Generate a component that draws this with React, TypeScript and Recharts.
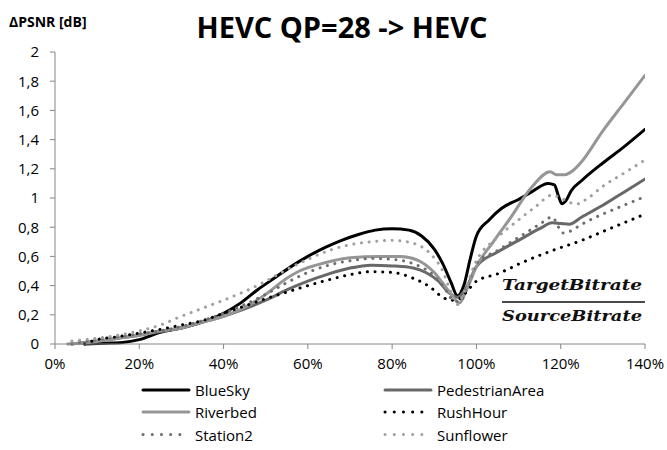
import React from 'react';
import { LineChart, Line, XAxis, YAxis, Legend } from 'recharts';

const xTicks = [0, 20, 40, 60, 80, 100, 120, 140];
const yTicks = [0, 0.2, 0.4, 0.6, 0.8, 1, 1.2, 1.4, 1.6, 1.8, 2];

const blueSkyX = [7, 12, 16, 20, 25, 30, 35, 40, 44, 48, 52, 56, 60, 64, 68, 72, 76, 80, 84, 87, 90, 92, 94, 95.5, 97, 98.5, 100, 103, 106, 110, 113, 117, 118.5, 119.5, 120.3, 121.2, 122.5, 125, 130, 135, 140];
const blueSkyY = [0, 0.005, 0.01, 0.03, 0.08, 0.11, 0.15, 0.21, 0.28, 0.37, 0.45, 0.53, 0.6, 0.66, 0.71, 0.75, 0.78, 0.79, 0.78, 0.74, 0.65, 0.55, 0.42, 0.33, 0.4, 0.58, 0.74, 0.85, 0.93, 0.99, 1.04, 1.1, 1.09, 1.01, 0.96, 0.98, 1.05, 1.12, 1.24, 1.35, 1.47];

const pedestrianX = [4, 10, 15, 20, 25, 30, 35, 40, 45, 50, 55, 60, 65, 70, 75, 80, 85, 88, 91, 93.5, 95.5, 97.5, 100, 105, 110, 115, 118, 120, 122, 125, 130, 135, 140];
const pedestrianY = [0, 0.02, 0.04, 0.06, 0.085, 0.11, 0.15, 0.19, 0.24, 0.3, 0.37, 0.43, 0.48, 0.52, 0.54, 0.535, 0.52, 0.49, 0.43, 0.35, 0.32, 0.38, 0.53, 0.63, 0.71, 0.79, 0.83, 0.825, 0.82, 0.87, 0.95, 1.04, 1.13];

const riverbedX = [3, 8, 15, 20, 25, 30, 35, 40, 45, 50, 55, 58, 62, 66, 70, 77, 82, 86, 90, 93.5, 96, 97.5, 100, 104, 108, 113, 117.5, 119, 121, 123, 125, 130, 135, 140];
const riverbedY = [0, 0.01, 0.04, 0.06, 0.09, 0.11, 0.15, 0.19, 0.25, 0.34, 0.45, 0.5, 0.54, 0.57, 0.59, 0.6, 0.6, 0.575, 0.49, 0.36, 0.28, 0.36, 0.53, 0.7, 0.86, 1.07, 1.18, 1.16, 1.16, 1.19, 1.25, 1.46, 1.65, 1.84];

const rushHourX = [7, 10, 15, 20, 25, 30, 35, 40, 45, 50, 55, 60, 65, 70, 75, 80, 85, 89, 92, 94, 96, 98, 100, 105, 111, 118, 125, 130, 135, 140];
const rushHourY = [0, 0.03, 0.05, 0.075, 0.1, 0.13, 0.16, 0.21, 0.26, 0.31, 0.355, 0.4, 0.44, 0.475, 0.495, 0.49, 0.45, 0.39, 0.32, 0.3, 0.31, 0.37, 0.43, 0.48, 0.56, 0.64, 0.71, 0.77, 0.83, 0.89];

const station2X = [4, 10, 15, 20, 25, 30, 35, 40, 45, 50, 55, 60, 65, 70, 75, 80, 85, 89, 92, 94.5, 96, 98, 100, 105, 110, 115, 118, 119.5, 120.5, 122, 125, 130, 135, 140];
const station2Y = [0, 0.03, 0.05, 0.07, 0.09, 0.12, 0.16, 0.21, 0.27, 0.34, 0.42, 0.49, 0.54, 0.57, 0.585, 0.58, 0.55, 0.49, 0.4, 0.3, 0.29, 0.4, 0.55, 0.64, 0.73, 0.82, 0.87, 0.8, 0.76, 0.77, 0.82, 0.89, 0.95, 1.01];

const sunflowerX = [4, 10, 15, 20, 25, 30, 35, 40, 45, 50, 55, 60, 65, 70, 75, 80, 85, 89, 92, 94, 95.5, 97, 100, 105, 110, 114, 118, 120, 122, 124, 126, 130, 135, 140];
const sunflowerY = [0.02, 0.04, 0.06, 0.09, 0.13, 0.19, 0.245, 0.3, 0.36, 0.43, 0.51, 0.58, 0.64, 0.68, 0.7, 0.71, 0.69, 0.62, 0.5, 0.35, 0.27, 0.35, 0.57, 0.73, 0.85, 0.94, 1.02, 1.0, 0.97, 0.96, 0.99, 1.08, 1.17, 1.26];

const zip = (xs: number[], ys: number[]) => xs.map((x, i) => ({ x, y: ys[i] }));

const series = [
  { name: 'BlueSky', data: zip(blueSkyX, blueSkyY), color: '#000000', dotted: false },
  { name: 'PedestrianArea', data: zip(pedestrianX, pedestrianY), color: '#686868', dotted: false },
  { name: 'Riverbed', data: zip(riverbedX, riverbedY), color: '#969696', dotted: false },
  { name: 'RushHour', data: zip(rushHourX, rushHourY), color: '#000000', dotted: true },
  { name: 'Station2', data: zip(station2X, station2Y), color: '#6e6e6e', dotted: true },
  { name: 'Sunflower', data: zip(sunflowerX, sunflowerY), color: '#a0a0a0', dotted: true },
];

const FONT = '"Open Sans", sans-serif';
const DASH = '0.1 7.6';

const renderLegend = () => {
  const cols = [141, 383];
  const rows = [12, 34, 56.5];
  return (
    <svg width={667} height={72} style={{ display: 'block' }}>
      {series.map((s, i) => {
        const cx = cols[i % 2];
        const cy = rows[Math.floor(i / 2)];
        return (
          <g key={s.name}>
            <line
              x1={cx + 2}
              x2={cx + 48}
              y1={cy}
              y2={cy}
              stroke={s.color}
              strokeWidth={3}
              strokeLinecap="round"
              strokeDasharray={s.dotted ? '0.1 9.1' : undefined}
            />
            <text x={cx + 54} y={cy} dominantBaseline="central" fontFamily={FONT} fontSize={15} fill="#000">
              {s.name}
            </text>
          </g>
        );
      })}
    </svg>
  );
};

export default function App() {
  return (
    <div style={{ position: 'absolute', left: 0, top: 0, width: 667, height: 450, background: '#fff' }}>
      <LineChart width={667} height={450} margin={{ top: 52, right: 22, bottom: 76, left: 0 }}>
        <XAxis
          type="number"
          dataKey="x"
          domain={[0, 140]}
          ticks={xTicks}
          interval={0}
          height={30}
          tickSize={5}
          tickMargin={9}
          stroke="#868686"
          tick={{ fill: '#000', fontSize: 15, fontFamily: FONT }}
          tickFormatter={(v: number) => `${v}%`}
          allowDataOverflow
        />
        <YAxis
          type="number"
          domain={[0, 2]}
          ticks={yTicks}
          interval={0}
          width={55}
          tickSize={5}
          tickMargin={11}
          stroke="#868686"
          tick={{ fill: '#000', fontSize: 15, fontFamily: FONT }}
          tickFormatter={(v: number) => String(v).replace('.', ',')}
        />
        {series.map((s) => (
          <Line
            key={s.name}
            name={s.name}
            data={s.data}
            dataKey="y"
            type="monotone"
            stroke={s.color}
            strokeWidth={3}
            strokeLinecap="round"
            strokeDasharray={s.dotted ? DASH : undefined}
            dot={false}
            activeDot={false}
            isAnimationActive={false}
          />
        ))}
        <Legend
          verticalAlign="middle"
          align="center"
          layout="horizontal"
          wrapperStyle={{ position: 'absolute', left: 0, top: 378, width: 667, height: 72 }}
          content={renderLegend}
        />
      </LineChart>
      <svg width={667} height={450} style={{ position: 'absolute', left: 0, top: 0, pointerEvents: 'none' }}>
        <text x={342} y={38} textAnchor="middle" fontFamily={FONT} fontWeight="bold" fontSize={29} fill="#000">
          HEVC QP=28 -&gt; HEVC
        </text>
        <text x={9} y={27} fontFamily={FONT} fontWeight="bold" fontSize={14} fill="#000">
          ΔPSNR [dB]
        </text>
        <text x={502} y={290} fontFamily='"DejaVu Serif", serif' fontStyle="italic" fontWeight="bold" fontSize={15} fill="#111" textLength={140} lengthAdjust="spacingAndGlyphs">
          TargetBitrate
        </text>
        <line x1={502} x2={645} y1={302} y2={302} stroke="#111" strokeWidth={1.3} />
        <text x={502} y={321} fontFamily='"DejaVu Serif", serif' fontStyle="italic" fontWeight="bold" fontSize={15} fill="#111" textLength={140} lengthAdjust="spacingAndGlyphs">
          SourceBitrate
        </text>
      </svg>
    </div>
  );
}
